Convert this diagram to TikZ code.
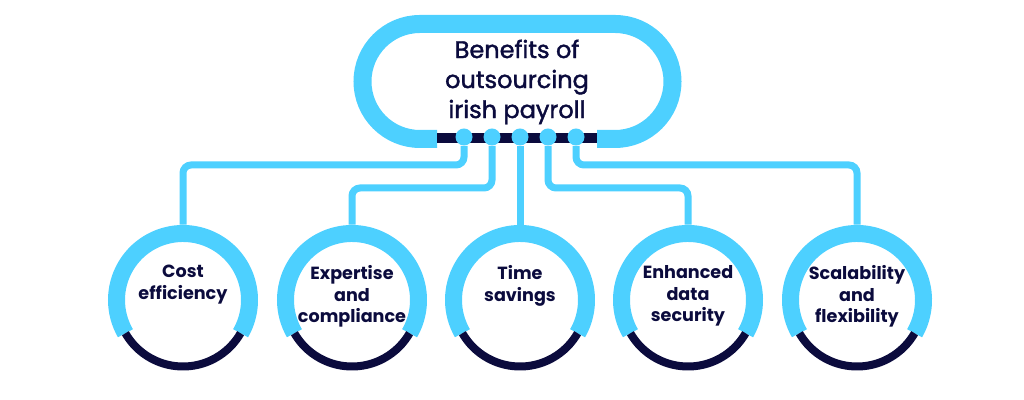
\documentclass[tikz,border=0pt]{standalone}
\usepackage{fontspec}
\setsansfont{Poppins}
\usepackage{tikz}
\usetikzlibrary{calc,positioning}
\definecolor{skyc}{HTML}{4DD0FF}
\definecolor{navy}{HTML}{0B0B3D}

\begin{document}
\begin{tikzpicture}[
  x=0.5pt, y=0.5pt,
  ttl/.style={font=\sffamily\addfontfeatures{FakeBold=1.6}\fontsize{12}{15}\selectfont, text=navy, align=center, inner sep=0pt},
  lab/.style={font=\sffamily\bfseries\fontsize{8.8}{10.8}\selectfont, text=navy, align=center, inner sep=0pt, anchor=north},
  ben/.style={circle, minimum size=75pt, inner sep=0pt},
  dot/.style={circle, fill=skyc, minimum size=8.5pt, inner sep=0pt},
  pill/.style={draw=skyc, line width=9pt},
  bar/.style={draw=navy, line width=5pt},
  ring/.style={draw=skyc, line width=8.5pt},
  base/.style={draw=navy, line width=4pt},
  link/.style={draw=skyc, line width=3.5pt, rounded corners=4pt}
]
\useasboundingbox (0,0) rectangle (1024,400);

% title frame
\node[ttl] (title) at (517,318) {Benefits of\\outsourcing\\irish payroll};
\draw[pill] (437,261) -- (420,261) arc[start angle=270, end angle=90, radius=57.5]
  -- (615,376) arc[start angle=90, end angle=-90, radius=57.5] -- (597,261);
\draw[bar] (437,262) -- (597,262);

% benefit circles
\node[ben] (c1) at (183,100) {};
\node[ben] (c2) at (352,100) {};
\node[ben] (c3) at (520,100) {};
\node[ben] (c4) at (688,100) {};
\node[ben] (c5) at (857,100) {};

\foreach \c in {c1,c2,c3,c4,c5} {
  \draw[ring] (\c.center) ++(-30:66.5) arc[start angle=-30, end angle=210, radius=66.5];
  \draw[base] (\c.center) ++(210:66.5) arc[start angle=210, end angle=330, radius=66.5];
}

\node[lab] (t1) at ($(c1.center)+(0,35)$) {Cost\\efficiency};
\node[lab] (t2) at ($(c2.center)+(0,35)$) {Expertise\\and\\compliance};
\node[lab] (t3) at ($(c3.center)+(0,35)$) {Time\\savings};
\node[lab] (t4) at ($(c4.center)+(0,35)$) {Enhanced\\data\\security};
\node[lab] (t5) at ($(c5.center)+(0,35)$) {Scalability\\and\\flexibility};

% links
\foreach \i/\x in {1/464,2/492,3/520,4/548,5/576}
  \node[dot] (d\i) at (\x,263) {};

\draw[link] (d1.south) |- (c1.north |- 0,235) -- (c1.north);
\draw[link] (d2.south) |- (c2.north |- 0,212) -- (c2.north);
\draw[link] (d3.south) -- (c3.north);
\draw[link] (d4.south) |- (c4.north |- 0,212) -- (c4.north);
\draw[link] (d5.south) |- (c5.north |- 0,235) -- (c5.north);
\end{tikzpicture}
\end{document}
